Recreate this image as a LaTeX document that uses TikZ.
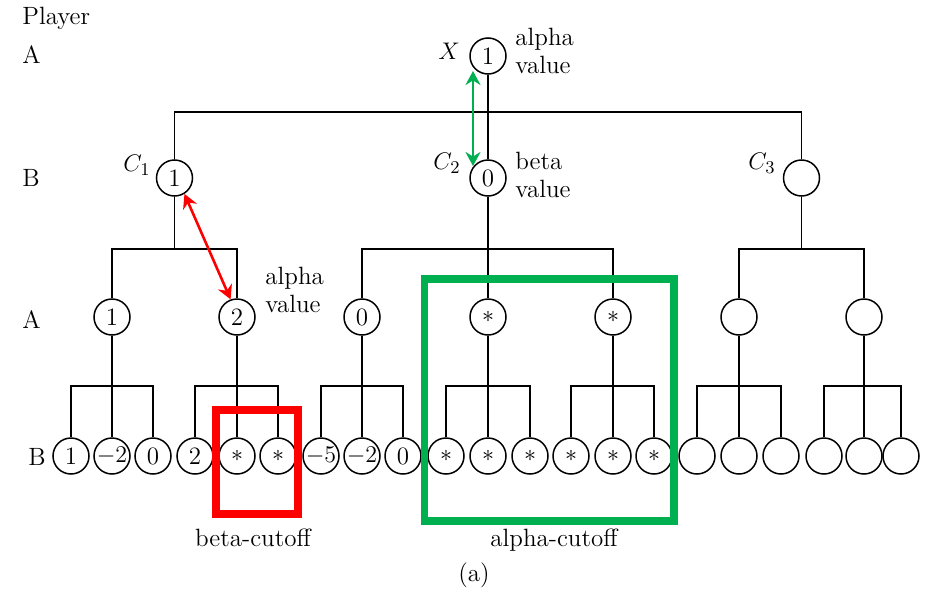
\documentclass[tikz,border=0pt]{standalone}
\usetikzlibrary{arrows.meta}
\definecolor{gcut}{RGB}{0,176,80}
\definecolor{rcut}{RGB}{255,0,0}
\begin{document}
\begin{tikzpicture}[x=0.5pt,y=-0.5pt,
  font=\fontsize{12.5}{14}\selectfont,
  nd/.style={circle,draw,line width=0.75pt,minimum size=18pt,inner sep=0pt},
  edge/.style={line width=0.75pt},
  lbl/.style={inner sep=0pt},
  dblarrow/.style={line width=1.3pt,{Stealth[length=7pt,width=7.5pt]}-{Stealth[length=7pt,width=7.5pt]}}]
\useasboundingbox (0,0) rectangle (936,589);
% level coordinates
\coordinate (yR) at (0,56);
\coordinate (yT) at (0,112);
\coordinate (yC) at (0,178);
\coordinate (yCB) at (0,249);
\coordinate (yA) at (0,317);
\coordinate (yL) at (0,386);
% leaves
\foreach \i/\xx/\t in {0/71/1,1/112/$-2$,2/153/0,3/195/2,4/237/$\ast$,5/278/$\ast$,
  6/321/$-5$,7/362/$-2$,8/403/0,9/446/$\ast$,10/488/$\ast$,11/530/$\ast$,
  12/571/$\ast$,13/613/$\ast$,14/654/$\ast$,15/697/{},16/739/{},17/781/{},
  18/824/{},19/864/{},20/901/{}}
  \node[nd] (l\i) at (\xx,456) {\t};
% level A nodes
\foreach \j/\m/\t in {0/1/1,1/4/2,2/7/0,3/10/$\ast$,4/13/$\ast$,5/16/{},6/19/{}}
  \node[nd] (a\j) at (l\m |- yA) {\t};
% level C nodes
\node[nd] (c1) at (174.5,178) {1};
\node[nd] (c2) at (a3 |- yC) {0};
\node[nd] (c3) at (801.5,178) {};
\node[nd] (r) at (c2 |- yR) {1};
% leaf bars
\foreach \j/\f/\m/\l in {0/0/1/2,1/3/4/5,2/6/7/8,3/9/10/11,4/12/13/14,5/15/16/17,6/18/19/20}{
  \coordinate (lb\j) at (a\j |- yL);
  \draw[edge] (a\j) -- (l\m);
  \draw[edge] (l\f) |- (lb\j) -| (l\l);
}
% C bars
\coordinate (cb1) at (c1 |- yCB);
\coordinate (cb2) at (c2 |- yCB);
\coordinate (cb3) at (c3 |- yCB);
\draw[edge] (c1) -- (cb1);
\draw[edge] (a0) |- (cb1) -| (a1);
\draw[edge] (c2) -- (a3);
\draw[edge] (a2) |- (cb2) -| (a4);
\draw[edge] (c3) -- (cb3);
\draw[edge] (a5) |- (cb3) -| (a6);
% top bar
\coordinate (tb) at (r |- yT);
\draw[edge] (r) -- (c2);
\draw[edge] (c1) |- (tb) -| (c3);
% player labels
\node[lbl,anchor=west] (pl) at (22,18) {Player};
\node[lbl,anchor=west] (pA1) at (22,55) {A};
\node[lbl,anchor=west] (pB1) at (22,178) {B};
\node[lbl,anchor=west] (pA2) at (22,320) {A};
\node[lbl,anchor=west] (pB2) at (28,457) {B};
% node labels
\node[lbl] (lx) at (449,51) {$X$};
\node[lbl,anchor=west,align=left] (lav) at (515,51) {alpha\\value};
\node[lbl] (lc1) at (137,165) {$C_1$};
\node[lbl] (lc2) at (447,163) {$C_2$};
\node[lbl] (lc3) at (762,163) {$C_3$};
\node[lbl,anchor=west,align=left] (lbv) at (515,175) {beta\\value};
\node[lbl,anchor=west,align=left] (lav2) at (265,290) {alpha\\value};
% cutoff boxes
\draw[rcut,line width=4pt] (216,410) rectangle (298,514);
\draw[gcut,line width=3.8pt] (424.5,279) rectangle (674,521);
\node[lbl] (bc) at (253,538) {beta-cutoff};
\node[lbl] (ac) at (554,540) {alpha-cutoff};
\node[lbl] (cap) at (474,575) {(a)};
% arrows
\coordinate (ga) at (473,71);
\coordinate (gb) at (473,166);
\draw[gcut,dblarrow] (ga) -- (gb);
\draw[rcut,dblarrow] (c1.-58) -- (a1.110);
\end{tikzpicture}
\end{document}
